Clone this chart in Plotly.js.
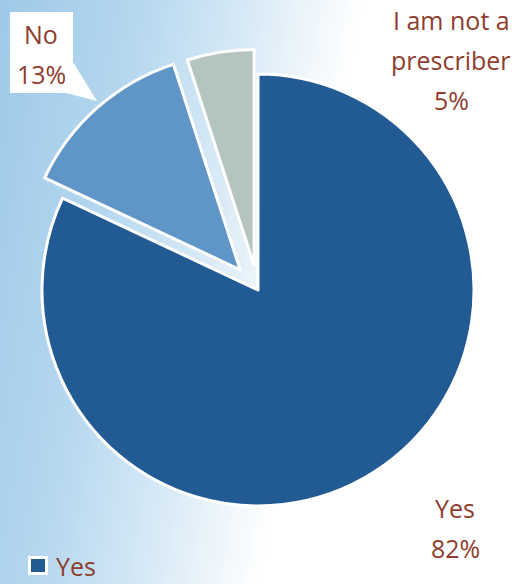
<!DOCTYPE html>
<html>
<head>
<meta charset="utf-8">
<script src="https://cdn.plot.ly/plotly-3.0.1.min.js"></script>
<style>
html,body{margin:0;padding:0;width:523px;height:584px;overflow:hidden;}
body{background:linear-gradient(100deg,#9ec9e8 0%,#b5d7ef 22%,#dcecf7 42%,#ffffff 58%,#ffffff 100%);}
#chart{width:523px;height:584px;}
</style>
</head>
<body>
<div id="chart"></div>
<script>
const labels = ["Yes", "No", "I am not a prescriber"];
const values = [82, 13, 5];
const colors = ["#225a93", "#5f95c7", "#b4c5bf"];
const pulls = [0, 0.125, 0.115];
const labelLines = [["Yes", "82%"], ["No", "13%"], ["I am not a", "prescriber", "5%"]];

const W = 523, H = 584;
const px = x => x / W, py = y => 1 - y / H;
const txtColor = "#8e3d2e";
const font = {family: "'Open Sans', Lato, sans-serif", size: 25, color: txtColor};

const maxPull = Math.max(...pulls);
const half = 216 * (1 + maxPull);

const trace = {
  type: "pie",
  labels: labels,
  values: values,
  sort: false,
  direction: "clockwise",
  rotation: 0,
  pull: pulls,
  marker: {colors: colors, line: {color: "#ffffff", width: 3}},
  textinfo: "none",
  hoverinfo: "label+percent",
  showlegend: false,
  domain: {x: [px(258 - half), px(258 + half)], y: [py(290 + half), py(290 - half)]}
};

// label line anchor positions (pixel centres)
const linePos = [
  [[455, 508], [455, 548]],
  [[41, 34], [41, 74]],
  [[451, 20], [451, 60], [451, 100]]
];

const annotations = [];
labelLines.forEach((lines, i) => {
  lines.forEach((t, j) => {
    annotations.push({xref: "paper", yref: "paper", x: px(linePos[i][j][0]), y: py(linePos[i][j][1]),
      text: t, showarrow: false, font: font, xanchor: "center", yanchor: "middle"});
  });
});
annotations.push({xref: "paper", yref: "paper", x: px(54), y: py(566), text: labels[0],
  showarrow: false, font: font, xanchor: "left", yanchor: "middle"});

const layout = {
  width: W, height: H,
  margin: {l: 0, r: 0, t: 0, b: 0},
  paper_bgcolor: "rgba(0,0,0,0)",
  plot_bgcolor: "rgba(0,0,0,0)",
  showlegend: false,
  shapes: [
    {type: "path", xref: "paper", yref: "paper",
     path: `M ${px(66)},${py(93)} L ${px(73)},${py(62)} L ${px(97)},${py(101)} Z`,
     fillcolor: "#ffffff", line: {width: 0}, layer: "above"},
    {type: "rect", xref: "paper", yref: "paper",
     x0: px(10), x1: px(73), y0: py(93), y1: py(12),
     fillcolor: "#ffffff", line: {width: 0}, layer: "above"},
    {type: "rect", xref: "paper", yref: "paper",
     x0: px(28), x1: px(48), y0: py(575), y1: py(556),
     fillcolor: "#ffffff", line: {width: 0}, layer: "above"},
    {type: "rect", xref: "paper", yref: "paper",
     x0: px(31), x1: px(45), y0: py(572), y1: py(559),
     fillcolor: colors[0], line: {width: 0}, layer: "above"}
  ],
  annotations: annotations
};

Plotly.newPlot("chart", [trace], layout, {displayModeBar: false, staticPlot: true});
</script>
</body>
</html>
